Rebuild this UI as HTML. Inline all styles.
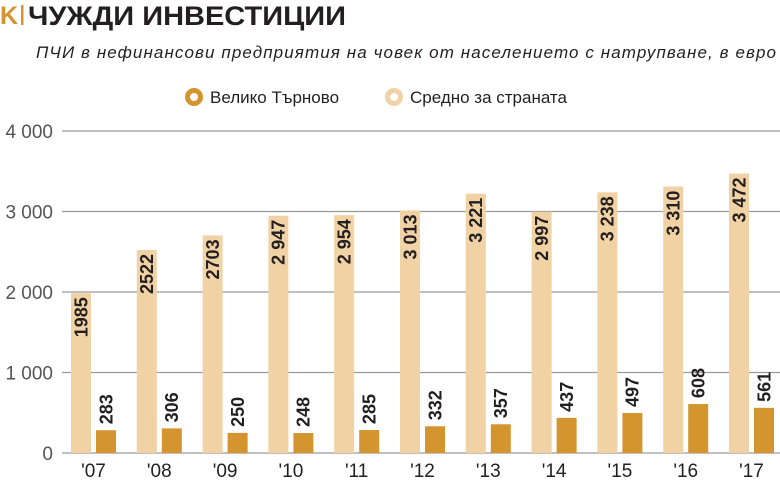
<!DOCTYPE html>
<html><head><meta charset="utf-8"><style>
body{margin:0;background:#fff;width:780px;height:482px;overflow:hidden;font-family:"Liberation Sans",sans-serif}
</style></head><body>
<svg width="780" height="482">
<text x="0" y="24" font-size="25" font-weight="bold" fill="#d4952f">K</text>
<rect x="21" y="5" width="2.5" height="20" fill="#d4952f"/>
<text x="28" y="25" font-size="27" font-weight="bold" fill="#231f20" textLength="318" lengthAdjust="spacingAndGlyphs">ЧУЖДИ ИНВЕСТИЦИИ</text>
<text x="776" y="58" font-size="17" font-style="italic" fill="#231f20" text-anchor="end" textLength="740">ПЧИ в нефинансови предприятия на човек от населението с натрупване, в евро</text>
<g>
<circle cx="194" cy="97" r="6.5" fill="none" stroke="#d4952f" stroke-width="5"/>
<text x="210" y="103" font-size="17" fill="#231f20">Велико Търново</text>
<circle cx="394" cy="97" r="6.5" fill="none" stroke="#f0d2a4" stroke-width="5"/>
<text x="410" y="103" font-size="17" fill="#231f20">Средно за страната</text>
</g>
<g id="grid"></g><g id="bars"></g>
</svg>
<script>
const years=["'07","'08","'09","'10","'11","'12","'13","'14","'15","'16","'17"];
const avgValues=[1985,2522,2703,2947,2954,3013,3221,2997,3238,3310,3472];
const avgLabels=["1985","2522","2703","2 947","2 954","3 013","3 221","2 997","3 238","3 310","3 472"];
const vtValues=[283,306,250,248,285,332,357,437,497,608,561];
const tickValues=[0,1000,2000,3000,4000];
const tickLabels=["0","1 000","2 000","3 000","4 000"];
const NS="http://www.w3.org/2000/svg";
const y=v=>453-v*0.0805;
const gx=i=>93.5+i*65.8;
function mk(tag,attrs,parent,txt){const e=document.createElementNS(NS,tag);for(const k in attrs)e.setAttribute(k,attrs[k]);if(txt!==undefined)e.textContent=txt;parent.appendChild(e);return e;}
const grid=document.getElementById('grid'),bars=document.getElementById('bars');
tickValues.forEach((t,i)=>{
 const l=mk('line',{x1:62,x2:780,y1:y(t),y2:y(t),stroke:'#9a9a9a','stroke-width':1.3},grid);
 
 
 const tx=mk('text',{x:53,y:y(t)+7,'font-size':19,fill:'#555','text-anchor':'end','font-weight':300},grid,tickLabels[i]);
 
 
});
years.forEach((yr,i)=>{
 const c=gx(i);
 const a=mk('rect',{x:c-22.5,y:y(avgValues[i]),width:20,height:453-y(avgValues[i]),fill:'#f0d2a4'},bars);
 
 
 const ax=c-12.5,ay=y(avgValues[i])+4;
 const at=mk('text',{x:ax,y:ay,'font-size':18,fill:'#231f20','text-anchor':'end','font-weight':'bold',transform:`rotate(-90 ${ax} ${ay})`,dy:'0.35em'},bars,avgLabels[i]);
 
 
 const b=mk('rect',{x:c+2.5,y:y(vtValues[i]),width:20,height:453-y(vtValues[i]),fill:'#d4952f'},bars);
 
 
 const bx=c+12.5,by=y(vtValues[i])-6;
 const bt=mk('text',{x:bx,y:by,'font-size':18,fill:'#231f20','text-anchor':'start','font-weight':'bold',transform:`rotate(-90 ${bx} ${by})`,dy:'0.35em'},bars,String(vtValues[i]));
 
 
 const xl=mk('text',{x:c,y:477,'font-size':19,fill:'#231f20','text-anchor':'middle'},bars,yr);
 
 
});
</script>
</body></html>
